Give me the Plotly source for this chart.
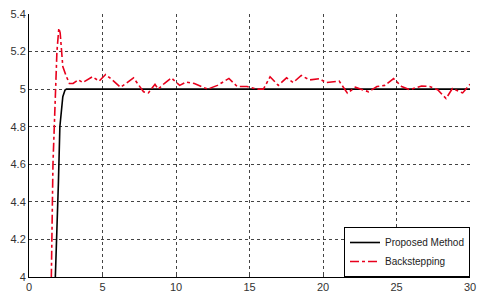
import plotly.graph_objects as go

prop_x = [1.75, 1.85, 1.9, 2.0, 2.1, 2.15, 2.2, 2.3, 2.45, 2.55, 3.0, 30.0]
prop_y = [3.9, 4.1, 4.2, 4.5, 4.8, 4.85, 4.9, 4.96, 4.995, 5.0, 5.0, 5.0]

back_x = [1.45, 1.52, 1.63, 1.74, 1.81, 1.9, 2.03, 2.12, 2.19, 2.3, 2.53, 2.75, 3.0, 3.36, 3.65, 4.0, 4.32, 4.77,
          5.21, 5.66, 6.22, 6.6, 7.11, 7.79, 8.12, 8.57, 8.79, 9.2, 9.69, 10.25, 10.69, 11.25, 11.7, 12.15,
          12.82, 13.6, 14.16, 14.83, 15.5, 15.95, 16.4, 16.96, 17.52, 17.97, 18.52, 19.08, 19.75, 20.2,
          21.1, 21.66, 22.2, 23.1, 23.67, 24.2, 24.8, 25.35, 25.9, 26.7, 27.25, 27.8, 28.37, 28.8, 29.5, 30.0]
back_y = [3.9, 4.0, 4.6, 4.8, 5.0, 5.2, 5.325, 5.3, 5.24, 5.12, 5.07, 5.03, 5.03, 5.05, 5.035, 5.05, 5.066, 5.043,
          5.078, 5.05, 5.01, 5.03, 5.06, 4.986, 4.98, 5.026, 5.0, 5.03, 5.06, 5.02, 5.038, 5.03, 5.015, 5.0,
          5.02, 5.057, 5.014, 5.014, 5.0, 5.0, 5.066, 5.02, 5.06, 5.035, 5.073, 5.049, 5.056, 5.035,
          5.043, 4.979, 5.01, 4.986, 5.014, 5.02, 5.056, 5.014, 4.997, 5.017, 5.014, 4.997, 4.95, 5.003, 4.98, 5.026]

x_ticks = [0, 5, 10, 15, 20, 25, 30]
y_ticks = [4, 4.2, 4.4, 4.6, 4.8, 5, 5.2, 5.4]
y_labels = ["4", "4.2", "4.4", "4.6", "4.8", "5", "5.2", "5.4"]

fig = go.Figure()
fig.add_trace(go.Scatter(x=prop_x, y=prop_y, mode="lines", name="Proposed Method",
                         line=dict(color="black", width=1.6)))
fig.add_trace(go.Scatter(x=back_x, y=back_y, mode="lines", name="Backstepping",
                         line=dict(color="#e8001c", width=1.6, dash="dashdot")))

fig.update_layout(
    autosize=True,
    margin=dict(l=29, r=8, t=14, b=19),
    paper_bgcolor="white", plot_bgcolor="white",
    font=dict(family="Liberation Sans, Arial", size=11, color="#333333"),
    showlegend=True,
    legend=dict(x=1, y=0, xanchor="right", yanchor="bottom", bgcolor="white",
                bordercolor="black", borderwidth=1, font=dict(size=10, color="#222222"),
                tracegroupgap=0, itemwidth=30),
    xaxis=dict(range=[0, 30], tickvals=x_ticks, showgrid=True, gridcolor="#444444", griddash="dot",
               gridwidth=1, showline=True, linecolor="black", linewidth=1, ticks="inside", ticklen=3,
               zeroline=False, mirror=False),
    yaxis=dict(range=[4, 5.4], tickvals=y_ticks, ticktext=y_labels, showgrid=True, gridcolor="#444444",
               griddash="dot", gridwidth=1, showline=True, linecolor="black", linewidth=1,
               ticks="inside", ticklen=3, zeroline=False),
)
fig.write_html("out.html", config={"displayModeBar": False, "responsive": True},
               default_width="100vw", default_height="100vh",
               post_script="document.body.style.margin='0';document.body.style.overflow='hidden';")
